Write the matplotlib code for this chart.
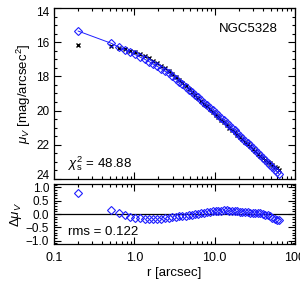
import matplotlib
matplotlib.use("Agg")
import matplotlib.pyplot as plt
import matplotlib.transforms as mtransforms
import numpy as np
from matplotlib.ticker import MultipleLocator, FixedLocator, NullFormatter, FixedFormatter

plt.rcParams['font.family'] = ['Liberation Sans', 'DejaVu Sans']
plt.rcParams['mathtext.fontset'] = 'custom'
plt.rcParams['mathtext.rm'] = 'Liberation Sans'
plt.rcParams['mathtext.it'] = 'Liberation Sans:italic'

galaxy = "NGC5328"
chi2_text = "48.88"
rms_text = "0.122"

r = [0.2, 0.52, 0.64, 0.76, 0.89, 1.02, 1.18, 1.35, 1.52, 1.72, 1.93, 2.16, 2.41,
     2.68, 2.97, 3.28, 3.62, 3.98, 4.37, 4.79, 5.24, 5.72, 6.24, 6.80, 7.40, 8.04,
     8.73, 9.47, 10.3, 11.1, 12.0, 13.0, 14.1, 15.2, 16.4, 17.7, 19.1, 20.6, 22.2,
     23.9, 25.7, 27.7, 29.8, 32.0, 34.4, 37.0, 39.7, 42.6, 45.7, 49.0, 52.5, 56.3,
     60.2, 63.0]
mu_model = [15.35, 16.07, 16.28, 16.45, 16.59, 16.72, 16.87, 17.00, 17.13, 17.28,
            17.41, 17.55, 17.69, 17.82, 17.98, 18.16, 18.31, 18.46, 18.62, 18.77,
            18.92, 19.08, 19.23, 19.39, 19.54, 19.68, 19.83, 19.98, 20.14, 20.27,
            20.42, 20.56, 20.72, 20.86, 21.01, 21.16, 21.31, 21.46, 21.61, 21.75,
            21.89, 22.04, 22.18, 22.32, 22.47, 22.61, 22.76, 22.90, 23.04, 23.18,
            23.32, 23.46, 23.59, 23.68]
dmu = [0.80, 0.16, 0.05, -0.04, -0.10, -0.14, -0.16, -0.17, -0.18, -0.185, -0.18,
       -0.17, -0.155, -0.14, -0.12, -0.105, -0.09, -0.075, -0.06, -0.04, -0.025,
       -0.01, 0.01, 0.03, 0.05, 0.07, 0.085, 0.10, 0.11, 0.12, 0.13, 0.135, 0.135,
       0.13, 0.12, 0.11, 0.10, 0.085, 0.075, 0.065, 0.06, 0.055, 0.05, 0.05, 0.04,
       0.03, 0.01, -0.02, -0.05, -0.09, -0.13, -0.17, -0.21, -0.23]
mu_ticks = [14, 16, 18, 20, 22, 24]
dmu_ticks = [-1.0, -0.5, 0.0, 0.5, 1.0]
dmu_ticklabels = ['\u22121.0', '\u22120.5', '0.0', '0.5', '1.0']
r_ticks = [0.1, 1, 10, 100]
r_ticklabels = ['0.1', '1.0', '10.0', '100']

r_a = np.array(r)
mod = np.array(mu_model)
res = np.array(dmu)
data = mod + res

fig = plt.figure(figsize=(3.0, 2.85), dpi=100)
ax1 = fig.add_axes([0.18, 0.372, 0.803, 0.600])
ax2 = fig.add_axes([0.18, 0.144, 0.803, 0.210])

blue = '#1f1fff'
ax1.plot(r_a, data, ls='none', marker='x', ms=3, mew=1.0, color='black', zorder=2)
ax1.plot(r_a, mod, color=blue, lw=0.7, zorder=3)
ax1.plot(r_a, mod, ls='none', marker='D', ms=4, mfc='none', mec=blue, mew=0.8, zorder=4)

ax2.axhline(0, color='black', lw=0.9)
ax2.plot(r_a, res, ls='none', marker='D', ms=4, mfc='none', mec=blue, mew=0.8)

for ax in (ax1, ax2):
    ax.set_xscale('log')
    ax.set_xlim(0.1, 100)
    ax.tick_params(which='both', direction='in', top=True, right=True, labelsize=9,
                   width=0.8, color='black')
    ax.tick_params(axis='y', labelsize=8.5)
    ax.tick_params(which='major', length=5)
    ax.tick_params(which='minor', length=2.5)
    for s in ax.spines.values():
        s.set_linewidth(0.9)

ax1.set_ylim(24, 14)
ax1.set_yticks(mu_ticks)
ax1.set_yticklabels([str(t) for t in mu_ticks])
ax1.yaxis.set_minor_locator(MultipleLocator(0.5))
ax1.xaxis.set_major_formatter(NullFormatter())
ax1.xaxis.set_minor_formatter(NullFormatter())
ax1.set_ylabel(r'$\mu_V$ [mag/arcsec$^2$]', fontsize=9.5, labelpad=2)
ax1.text(0.93, 0.88, galaxy, transform=ax1.transAxes, ha='right', va='center', fontsize=9.5)
ax1.text(0.06, 0.09, r'$\chi^2_{\rm s}$ = ' + chi2_text, transform=ax1.transAxes,
         ha='left', va='center', fontsize=9.5)

# end labels sit slightly inside the panel, as in the reference
labs = ax1.get_yticklabels()
up = mtransforms.ScaledTranslation(0, 4.0 / 100, fig.dpi_scale_trans)
down = mtransforms.ScaledTranslation(0, -4.0 / 100, fig.dpi_scale_trans)
labs[0].set_transform(labs[0].get_transform() + down)
labs[-1].set_transform(labs[-1].get_transform() + up)

ax2.set_ylim(-1.12, 1.12)
ax2.set_yticks(dmu_ticks)
ax2.set_yticklabels(dmu_ticklabels)
ax2.yaxis.set_minor_locator(MultipleLocator(0.1))
ax2.set_xticks(r_ticks)
ax2.set_xticklabels(r_ticklabels)
ax2.xaxis.set_minor_formatter(NullFormatter())
ax2.tick_params(axis='x', which='major', pad=6)
ax2.set_ylabel(r'$\Delta\mu_V$', fontsize=9.5, labelpad=1)
ax2.set_xlabel('r [arcsec]', fontsize=9.5, labelpad=2)
ax2.text(0.06, 0.2, 'rms = ' + rms_text, transform=ax2.transAxes, ha='left', va='center',
         fontsize=9.5)

fig.align_ylabels([ax1, ax2])
fig.savefig('out.png', dpi=100)
